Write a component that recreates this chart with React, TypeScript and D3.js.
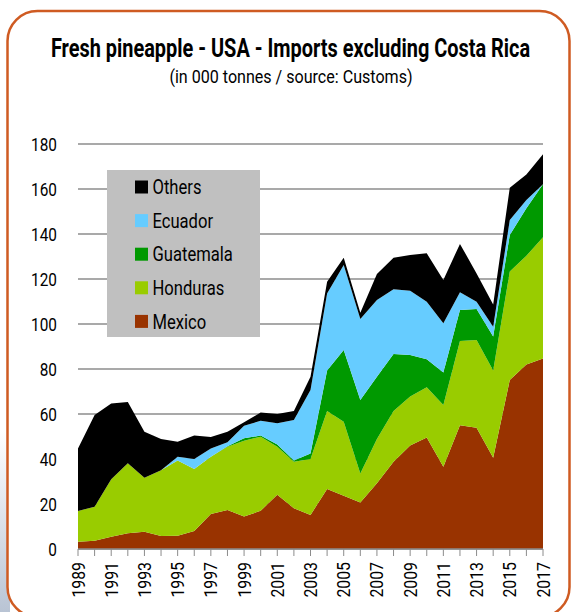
import React, { useLayoutEffect, useRef, useState } from "react";
import * as d3 from "d3";

const years = d3.range(1989, 2018);
const mexico = [3.2, 3.7, 5.5, 7, 7.7, 5.8, 5.9, 8, 15.6, 17.3, 14.4, 17, 24.1, 18.1, 15.1, 26.7, 23.7, 20.7, 29.2, 38.8, 46, 49.6, 36.6, 55, 53.9, 40.6, 75.1, 82, 84.7];
const honduras = [13.7, 15.1, 25.5, 31.1, 24, 29.2, 33.4, 27.6, 25.4, 28.2, 33.7, 32.9, 21.4, 20.7, 24.9, 34.6, 32.9, 12.9, 19.7, 22.5, 21.8, 22.3, 27.4, 37.4, 39, 38.7, 48.2, 48.3, 53.9];
const guatemala = [0, 0, 0, 0, 0, 0, 0, 0, 0, 0.2, 1.1, 0.5, 1, 0.5, 2.5, 18, 31.8, 32.6, 27.7, 25.4, 18.4, 12.4, 14.4, 13.8, 13.8, 15.1, 16.3, 21.1, 23.5];
const ecuador = [0, 0, 0, 0, 0, 0, 1.7, 4.4, 3.7, 1.8, 5.6, 6.6, 9.4, 18, 28.2, 34.3, 37.8, 36, 34.1, 28.7, 28.6, 25.6, 21.9, 7.9, 3.2, 4.4, 6.6, 3.7, 0];
const others = [27.8, 40.8, 33.7, 27.2, 20.4, 13.9, 6.7, 10.4, 5.1, 4.6, 1.5, 3.7, 4.1, 4, 5.9, 5.2, 3.3, 2.8, 11.5, 14.1, 15.9, 21.5, 19.3, 21.5, 12.6, 9.9, 14.4, 11.4, 13.3];
const seriesNames = ["Mexico", "Honduras", "Guatemala", "Ecuador", "Others"];
const seriesColors = ["#993300", "#99CC00", "#009900", "#66CCFF", "#000000"];
const yTicks = [0, 20, 40, 60, 80, 100, 120, 140, 160, 180];
const xLabelYears = years.filter((y) => (y - 1989) % 2 === 0);
const title = "Fresh pineapple - USA - Imports excluding Costa Rica";
const subtitle = "(in 000 tonnes / source: Customs)";

const FONT = "Roboto, 'Noto Sans', sans-serif";
const SX = 0.83;

function FitText(props: { x: number; y: number; width: number; size: number; bold?: boolean; text: string }) {
  const ref = useRef<SVGTextElement>(null);
  const [sx, setSx] = useState(SX);
  useLayoutEffect(() => {
    if (ref.current) {
      const w = ref.current.getComputedTextLength();
      if (w > 0) setSx(props.width / w);
    }
  }, [props.text, props.width]);
  return (
    <g transform={`translate(${props.x},${props.y}) scale(${sx},1)`}>
      <text ref={ref} x={0} y={0} textAnchor="middle" fontSize={props.size} fontWeight={props.bold ? "bold" : "normal"} fill="#000">
        {props.text}
      </text>
    </g>
  );
}

export default function App() {
  const W = 571, H = 612;
  const x = d3.scaleLinear().domain([1989, 2017]).range([78, 543]);
  const y = d3.scaleLinear().domain([0, 180]).range([549, 144]);
  const values = [mexico, honduras, guatemala, ecuador, others];
  const table = years.map((yr, i) => {
    const row: any = { year: yr };
    seriesNames.forEach((n, k) => (row[n] = values[k][i]));
    return row;
  });
  const stacked = d3.stack().keys(seriesNames)(table);
  const area = d3
    .area<any>()
    .x((d) => x(d.data.year))
    .y0((d) => y(d[0]))
    .y1((d) => y(d[1]));

  const legendOrder = [4, 3, 2, 1, 0];

  return (
    <svg width={W} height={H} style={{ position: "absolute", left: 0, top: 0 }} fontFamily={FONT}>
      <defs>
        <linearGradient id="shade" x1="0" y1="0" x2="0" y2="1">
          <stop offset="0" stopColor="#ffffff" />
          <stop offset="1" stopColor="#b9c4d4" />
        </linearGradient>
      </defs>
      <rect x={0} y={430} width={10} height={182} fill="url(#shade)" />
      <rect x={7.5} y={11} width={562} height={606} rx={30} ry={30} fill="#ffffff" stroke="#CF5B22" strokeWidth={2.5} />
      <FitText x={290.5} y={57} width={479} size={26} bold text={title} />
      <FitText x={291} y={83} width={243} size={19} text={subtitle} />
      {yTicks.map((t) => (
        <g key={t}>
          <line x1={78} x2={543} y1={y(t)} y2={y(t)} stroke="#8c8c8c" strokeWidth={1.5} />
          <g transform={`translate(57,${y(t)}) scale(${SX},1)`}>
            <text x={0} y={0} dy="0.36em" textAnchor="end" fontSize={18.5} fill="#000">
              {t}
            </text>
          </g>
        </g>
      ))}
      {stacked.map((s, k) => (
        <path key={s.key} d={area(s as any) || ""} fill={seriesColors[k]} />
      ))}
      <line x1={78} x2={543} y1={549} y2={549} stroke="#8c8c8c" strokeWidth={1.5} />
      {years.map((yr) => (
        <line key={yr} x1={x(yr)} x2={x(yr)} y1={549} y2={556} stroke="#8c8c8c" strokeWidth={1} />
      ))}
      {xLabelYears.map((yr) => (
        <g key={yr} transform={`translate(${x(yr) + 6.5},562) rotate(-90) scale(0.88,1)`}>
          <text x={0} y={0} textAnchor="end" fontSize={18} fill="#000">
            {yr}
          </text>
        </g>
      ))}
      <rect x={107} y={170} width={153} height={167} fill="#C0C0C0" />
      {legendOrder.map((k, i) => (
        <g key={seriesNames[k]}>
          <rect x={135} y={180.5 + i * 33.6} width={13} height={13} fill={seriesColors[k]} />
          <g transform={`translate(152.5,${187 + i * 33.6}) scale(${SX},1)`}>
            <text x={0} y={0} dy="0.36em" fontSize={20} fill="#000">
              {seriesNames[k]}
            </text>
          </g>
        </g>
      ))}
    </svg>
  );
}
